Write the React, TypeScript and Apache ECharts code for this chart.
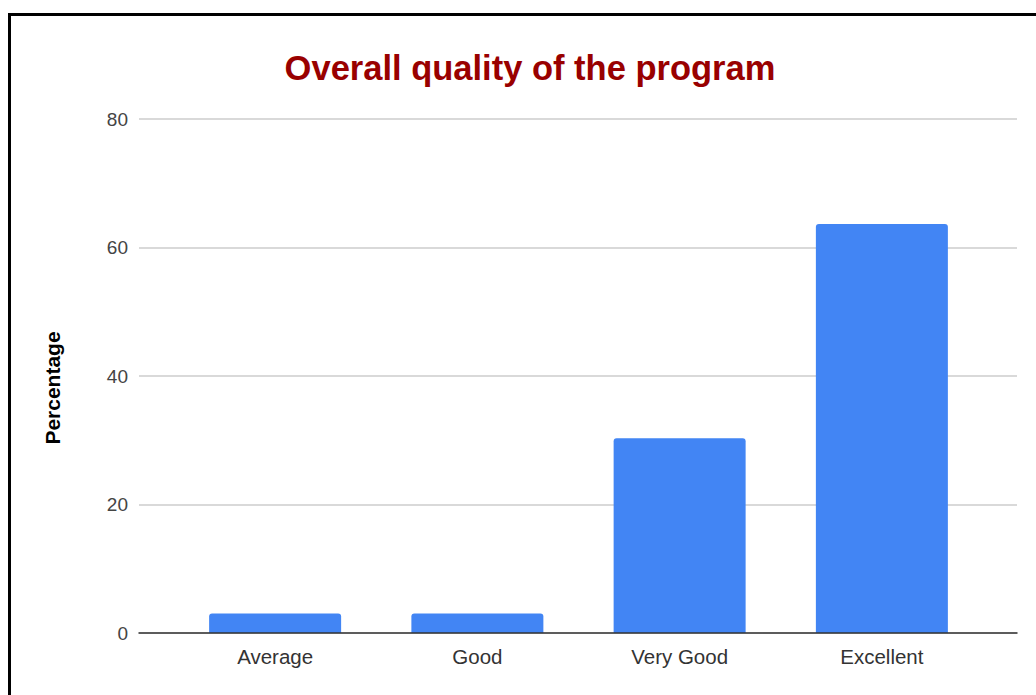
import React, { useEffect, useRef } from "react";
import * as echarts from "echarts";

const categories = ["Average", "Good", "Very Good", "Excellent"];
const values = [3.03, 3.03, 30.3, 63.64];
const yTicks = [0, 20, 40, 60, 80];
const titleText = "Overall quality of the program";
const yName = "Percentage";

export default function App() {
  const ref = useRef<HTMLDivElement>(null);
  useEffect(() => {
    if (!ref.current) return;
    const chart = echarts.init(ref.current, null, { renderer: "svg" });
    const yMin = yTicks[0];
    const yMax = yTicks[yTicks.length - 1];
    const interval = yTicks[1] - yTicks[0];
    const font = "Liberation Sans, Arial, sans-serif";
    chart.setOption({
      animation: false,
      backgroundColor: "#ffffff",
      title: {
        text: titleText,
        left: 525,
        textAlign: "center",
        top: 45,
        textStyle: {
          color: "#990000",
          fontSize: 34.5,
          fontWeight: "bold",
          fontFamily: font,
        },
      },
      graphic: [
        {
          type: "rect",
          shape: { x: 9.5, y: 14.5, width: 1100, height: 800 },
          style: { fill: "none", stroke: "#000", lineWidth: 3 },
          silent: true,
          z: 100,
        },
        {
          type: "text",
          x: 52,
          y: 388,
          rotation: Math.PI / 2,
          style: {
            text: yName,
            fill: "#000",
            font: "bold 21px " + font,
            textAlign: "center",
            textVerticalAlign: "middle",
          },
          silent: true,
        },
      ],
      grid: [
        { left: 139, right: 19, top: 119, bottom: 62 },
        { left: 174, right: 53, top: 119, bottom: 62 },
      ],
      xAxis: [
        {
          gridIndex: 0,
          type: "value",
          min: 0,
          max: 1,
          show: true,
          axisLabel: { show: false },
          axisTick: { show: false },
          splitLine: { show: false },
          axisLine: { show: true, lineStyle: { color: "#333", width: 1.5 } },
          z: 5,
        },
        {
          gridIndex: 1,
          type: "category",
          data: categories,
          axisLine: { show: false },
          axisTick: { show: false },
          axisLabel: {
            color: "#333",
            fontSize: 20.5,
            margin: 13,
            fontFamily: font,
          },
        },
      ],
      yAxis: [
        {
          gridIndex: 0,
          type: "value",
          min: yMin,
          max: yMax,
          interval,
          axisLine: { show: false },
          axisTick: { show: false },
          axisLabel: {
            color: "#444",
            fontSize: 19,
            margin: 11,
            fontFamily: font,
          },
          splitLine: { show: true, lineStyle: { color: "#cccccc", width: 1.5 } },
        },
        {
          gridIndex: 1,
          type: "value",
          min: yMin,
          max: yMax,
          interval,
          show: false,
          splitLine: { show: false },
        },
      ],
      series: [
        {
          type: "bar",
          xAxisIndex: 1,
          yAxisIndex: 1,
          data: values,
          barWidth: 132,
          itemStyle: { color: "#4285f4", borderRadius: [3, 3, 0, 0] },
          z: 2,
        },
      ],
    });
    return () => chart.dispose();
  }, []);
  return (
    <div
      ref={ref}
      style={{ position: "fixed", left: 0, top: 0, width: 1036, height: 695 }}
    />
  );
}
